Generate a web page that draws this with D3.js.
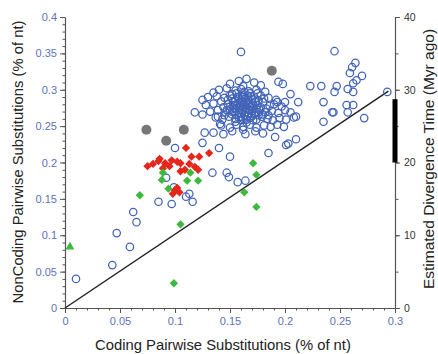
<!DOCTYPE html>
<html>
<head>
<meta charset="utf-8">
<script src="https://cdn.jsdelivr.net/npm/d3@7"></script>
<style>
  body { margin: 0; background: #fff; }
  svg { font-family: "Liberation Sans", Arial, sans-serif; }
</style>
</head>
<body>
<div id="chart"></div>
<script>
// [coding, noncoding] pairs, % of nt
const blueOpen = [
  // scattered low points
  [0.010, 0.040], [0.043, 0.059], [0.059, 0.084], [0.047, 0.103], [0.062, 0.132],
  [0.065, 0.118], [0.085, 0.146], [0.097, 0.143], [0.092, 0.179], [0.099, 0.166],
  [0.110, 0.153], [0.113, 0.157], [0.116, 0.146], [0.100, 0.220], [0.125, 0.227],
  [0.134, 0.186], [0.140, 0.220], [0.147, 0.186], [0.150, 0.208], [0.149, 0.180],
  [0.157, 0.173], [0.164, 0.175], [0.185, 0.213], [0.191, 0.235], [0.201, 0.224],
  [0.203, 0.226], [0.210, 0.232], [0.235, 0.256], [0.210, 0.263],
  // upper right spread
  [0.160, 0.352], [0.245, 0.353], [0.264, 0.337], [0.261, 0.331], [0.259, 0.323],
  [0.270, 0.319], [0.265, 0.313], [0.262, 0.309], [0.247, 0.305], [0.245, 0.297],
  [0.257, 0.301], [0.262, 0.297], [0.262, 0.279], [0.256, 0.279], [0.257, 0.269],
  [0.244, 0.269], [0.272, 0.261], [0.293, 0.297], [0.233, 0.305], [0.223, 0.305],
  [0.235, 0.283], [0.194, 0.311], [0.198, 0.308], [0.205, 0.294], [0.212, 0.283],
  [0.200, 0.283], [0.193, 0.283], [0.243, 0.269],
  // dense cluster
  [0.158, 0.312], [0.165, 0.315], [0.172, 0.310], [0.150, 0.308], [0.178, 0.306], [0.162, 0.305],
  [0.140, 0.300], [0.147, 0.302], [0.155, 0.299], [0.160, 0.301], [0.167, 0.298], [0.174, 0.300],
  [0.182, 0.297], [0.135, 0.296], [0.152, 0.294],
  [0.130, 0.290], [0.138, 0.291], [0.145, 0.289], [0.150, 0.292], [0.157, 0.290], [0.161, 0.293],
  [0.164, 0.288], [0.169, 0.291], [0.173, 0.288], [0.178, 0.292], [0.185, 0.289], [0.192, 0.286],
  [0.125, 0.286], [0.142, 0.284],
  [0.128, 0.279], [0.135, 0.281], [0.148, 0.280], [0.153, 0.283], [0.156, 0.278], [0.159, 0.282],
  [0.162, 0.279], [0.165, 0.283], [0.168, 0.277], [0.171, 0.281], [0.175, 0.279], [0.180, 0.283],
  [0.186, 0.278], [0.190, 0.280], [0.197, 0.277], [0.144, 0.276], [0.160, 0.285], [0.167, 0.286],
  [0.158, 0.275],
  [0.132, 0.270], [0.139, 0.272], [0.146, 0.269], [0.150, 0.273], [0.154, 0.270], [0.158, 0.268],
  [0.161, 0.272], [0.164, 0.269], [0.166, 0.274], [0.170, 0.271], [0.173, 0.268], [0.177, 0.272],
  [0.182, 0.269], [0.188, 0.271], [0.194, 0.268], [0.200, 0.272], [0.205, 0.269], [0.163, 0.276],
  [0.170, 0.264], [0.118, 0.269], [0.125, 0.266],
  [0.137, 0.262], [0.143, 0.259], [0.149, 0.263], [0.155, 0.260], [0.160, 0.263], [0.165, 0.259],
  [0.169, 0.262], [0.174, 0.259], [0.179, 0.263], [0.184, 0.260], [0.189, 0.258], [0.195, 0.261],
  [0.201, 0.259], [0.208, 0.262], [0.152, 0.266], [0.176, 0.265], [0.139, 0.263],
  [0.142, 0.251], [0.150, 0.248], [0.156, 0.252], [0.162, 0.249], [0.168, 0.252], [0.174, 0.248],
  [0.181, 0.251], [0.187, 0.249], [0.193, 0.252], [0.199, 0.249], [0.165, 0.255], [0.141, 0.253],
  [0.127, 0.241], [0.135, 0.241], [0.144, 0.239], [0.152, 0.243], [0.162, 0.245], [0.164, 0.239],
  [0.173, 0.243], [0.180, 0.240],
  // core of the cluster
  [0.152, 0.288], [0.155, 0.285], [0.158, 0.288], [0.162, 0.290], [0.166, 0.292], [0.170, 0.287],
  [0.153, 0.279], [0.157, 0.281], [0.161, 0.283], [0.163, 0.281], [0.167, 0.280], [0.170, 0.278],
  [0.173, 0.283], [0.176, 0.285], [0.150, 0.277], [0.155, 0.274], [0.160, 0.277], [0.164, 0.274],
  [0.168, 0.272], [0.171, 0.275], [0.174, 0.274], [0.178, 0.276], [0.147, 0.272], [0.152, 0.270],
  [0.156, 0.266], [0.160, 0.268], [0.163, 0.265], [0.167, 0.268], [0.172, 0.266], [0.176, 0.269],
  [0.180, 0.266], [0.158, 0.262], [0.162, 0.260], [0.166, 0.263], [0.156, 0.295], [0.163, 0.297],
  [0.168, 0.295], [0.148, 0.286], [0.181, 0.288], [0.183, 0.274], [0.145, 0.265], [0.171, 0.258],
  [0.155, 0.256], [0.185, 0.265], [0.160, 0.258], [0.175, 0.295]
];

const grayFilled = [[0.074, 0.245], [0.092, 0.230], [0.108, 0.245], [0.188, 0.326]];

const redDiamonds = [
  [0.110, 0.220], [0.131, 0.213], [0.122, 0.208], [0.086, 0.205], [0.091, 0.199],
  [0.080, 0.198], [0.085, 0.202], [0.097, 0.203], [0.102, 0.201], [0.105, 0.199],
  [0.113, 0.198], [0.118, 0.194], [0.095, 0.195], [0.105, 0.188], [0.121, 0.190],
  [0.089, 0.192], [0.109, 0.190], [0.100, 0.162], [0.104, 0.159], [0.098, 0.157],
  [0.102, 0.165], [0.115, 0.208], [0.075, 0.195]
];

const greenDiamonds = [
  [0.068, 0.155], [0.089, 0.186], [0.088, 0.176], [0.094, 0.164], [0.114, 0.186],
  [0.111, 0.175], [0.121, 0.175], [0.105, 0.115], [0.099, 0.034], [0.163, 0.159],
  [0.174, 0.139], [0.171, 0.199], [0.174, 0.183]
];

const greenTriangles = [[0.0045, 0.084]];

const diagonal = [[0, 0], [0.294, 0.298]];
const divergenceBar = [20, 28.7]; // Myr ago

const xTicks = [0, 0.05, 0.1, 0.15, 0.2, 0.25, 0.3];
const yTicks = [0, 0.05, 0.1, 0.15, 0.2, 0.25, 0.3, 0.35, 0.4];
const y2Ticks = [0, 10, 20, 30, 40];

const W = 438, H = 354;
const margin = { top: 17, right: 43, bottom: 46, left: 65 };

const svg = d3.select("#chart").append("svg")
  .attr("width", W).attr("height", H);

const x = d3.scaleLinear().domain([0, 0.3]).range([margin.left, W - margin.right]);
const y = d3.scaleLinear().domain([0, 0.4]).range([H - margin.bottom, margin.top]);
const y2 = d3.scaleLinear().domain([0, 40]).range([H - margin.bottom, margin.top]);

const axisColor = "#555";
const tickLabelColor = "#5e72b8";

function styleAxis(g, labelColor, size) {
  g.select(".domain").attr("stroke", axisColor).attr("stroke-width", 1.2);
  g.selectAll(".tick line").attr("stroke", axisColor);
  g.selectAll(".tick text").attr("fill", labelColor).style("font-size", size);
}

// minor ticks
const minorX = d3.range(0, 0.3001, 0.01);
const minorY = d3.range(0, 0.4001, 0.01);
const minorY2 = d3.range(0, 40.01, 5);

svg.append("g")
  .attr("transform", `translate(0,${y(0)})`)
  .call(d3.axisBottom(x).tickValues(minorX).tickSize(2.5).tickFormat(""))
  .call(g => g.select(".domain").remove())
  .selectAll("line").attr("stroke", axisColor);
svg.append("g")
  .attr("transform", `translate(${x(0)},0)`)
  .call(d3.axisLeft(y).tickValues(minorY).tickSize(2.5).tickFormat(""))
  .call(g => g.select(".domain").remove())
  .selectAll("line").attr("stroke", axisColor);
svg.append("g")
  .attr("transform", `translate(${x(0.3)},0)`)
  .call(d3.axisRight(y2).tickValues(minorY2).tickSize(3.5).tickFormat(""))
  .call(g => g.select(".domain").remove())
  .selectAll("line").attr("stroke", axisColor);

svg.append("g")
  .attr("transform", `translate(0,${y(0)})`)
  .call(d3.axisBottom(x).tickValues(xTicks).tickSize(5).tickSizeOuter(0).tickPadding(4)
    .tickFormat(d => d === 0 ? "0" : d3.format("~g")(d)))
  .call(g => styleAxis(g, tickLabelColor, "11px"));

svg.append("g")
  .attr("transform", `translate(${x(0)},0)`)
  .call(d3.axisLeft(y).tickValues(yTicks).tickSize(5).tickSizeOuter(0).tickPadding(3)
    .tickFormat(d => d === 0 ? "0" : d3.format("~g")(d)))
  .call(g => styleAxis(g, tickLabelColor, "11px"));

svg.append("g")
  .attr("transform", `translate(${x(0.3)},0)`)
  .call(d3.axisRight(y2).tickValues(y2Ticks).tickSize(5).tickSizeOuter(0).tickPadding(4))
  .call(g => styleAxis(g, "#333", "10.5px"));

// diagonal y = x
svg.append("line")
  .attr("x1", x(diagonal[0][0])).attr("y1", y(diagonal[0][1]))
  .attr("x2", x(diagonal[1][0])).attr("y2", y(diagonal[1][1]))
  .attr("stroke", "#222").attr("stroke-width", 1.5);

// divergence time bar
svg.append("rect")
  .attr("x", x(0.3) - 2.5)
  .attr("width", 5)
  .attr("y", y2(divergenceBar[1]))
  .attr("height", y2(divergenceBar[0]) - y2(divergenceBar[1]))
  .attr("fill", "#000");

// blue open circles
svg.append("g").selectAll("circle").data(blueOpen).join("circle")
  .attr("cx", d => x(d[0])).attr("cy", d => y(d[1]))
  .attr("r", 3.7)
  .attr("fill", "none")
  .attr("stroke", "#4264b8")
  .attr("stroke-width", 1.25);

// gray filled circles
svg.append("g").selectAll("circle").data(grayFilled).join("circle")
  .attr("cx", d => x(d[0])).attr("cy", d => y(d[1]))
  .attr("r", 5)
  .attr("fill", "#777");

const diamond = d3.symbol().type(d3.symbolDiamond2).size(44);

svg.append("g").selectAll("path").data(redDiamonds).join("path")
  .attr("transform", d => `translate(${x(d[0])},${y(d[1])})`)
  .attr("d", diamond)
  .attr("fill", "#e5261c");

svg.append("g").selectAll("path").data(greenDiamonds).join("path")
  .attr("transform", d => `translate(${x(d[0])},${y(d[1])})`)
  .attr("d", diamond)
  .attr("fill", "#3dba3d");

svg.append("g").selectAll("path").data(greenTriangles).join("path")
  .attr("transform", d => `translate(${x(d[0])},${y(d[1])})`)
  .attr("d", d3.symbol().type(d3.symbolTriangle).size(34))
  .attr("fill", "#3dba3d");

// axis titles
svg.append("text")
  .attr("x", 223).attr("y", 349.5)
  .attr("text-anchor", "middle")
  .style("font-size", "14.8px").attr("fill", "#222")
  .text("Coding Pairwise Substitutions (% of nt)");

svg.append("text")
  .attr("transform", `translate(22.5,162) rotate(-90)`)
  .attr("text-anchor", "middle")
  .style("font-size", "14.8px").attr("fill", "#222")
  .text("NonCoding Pairwise Substitutions (% of nt)");

svg.append("text")
  .attr("transform", `translate(433.5,159) rotate(-90)`)
  .attr("text-anchor", "middle")
  .style("font-size", "15.5px").attr("fill", "#222")
  .text("Estimated Divergence Time (Myr ago)");
</script>
</body>
</html>
